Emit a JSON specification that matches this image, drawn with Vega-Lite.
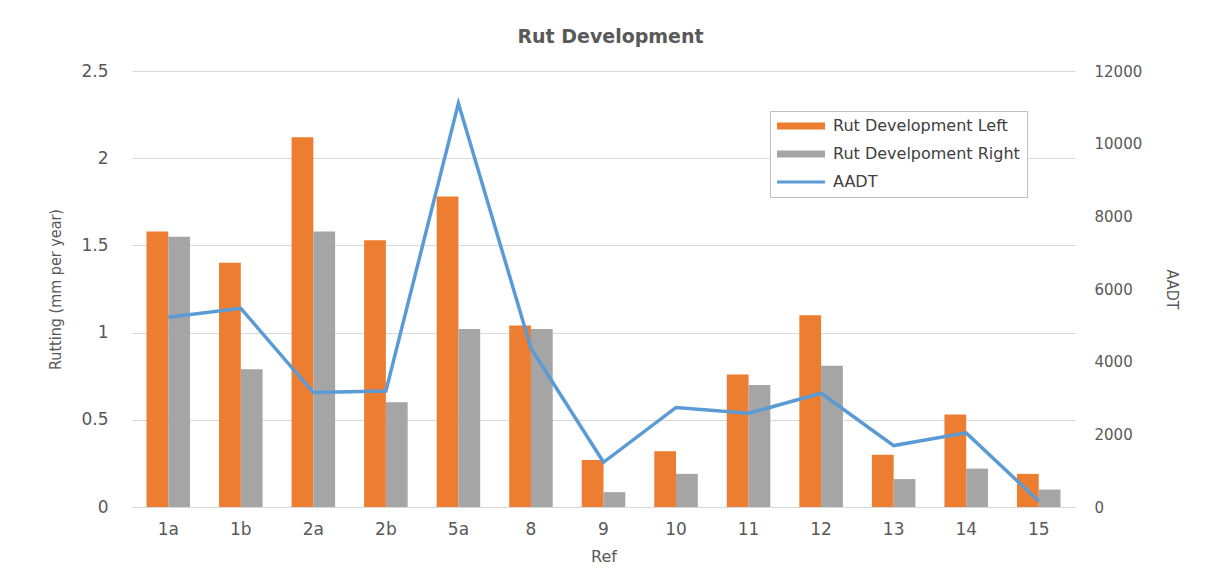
{
  "$schema": "https://vega.github.io/schema/vega-lite/v6.json",
  "autosize": {"type": "none"},
  "width": 943,
  "height": 436,
  "padding": {"left": 132, "top": 71, "right": 133, "bottom": 77},
  "background": "white",
  "title": {"text": "Rut Development", "font": "DejaVu Sans", "fontSize": 19, "fontWeight": "bold", "color": "#595959", "offset": 15, "anchor": "middle", "dx": 7},
  "config": {
    "view": {"stroke": null},
    "axis": {"labelColor": "#595959", "titleColor": "#595959", "titleFontWeight": "normal", "ticks": false, "domain": false}
  },
  "datasets": {
    "rut": [
      {"Ref": "1a", "Series": "Rut Development Left", "Rutting": 1.58},
      {"Ref": "1a", "Series": "Rut Develpoment Right", "Rutting": 1.55},
      {"Ref": "1b", "Series": "Rut Development Left", "Rutting": 1.40},
      {"Ref": "1b", "Series": "Rut Develpoment Right", "Rutting": 0.79},
      {"Ref": "2a", "Series": "Rut Development Left", "Rutting": 2.12},
      {"Ref": "2a", "Series": "Rut Develpoment Right", "Rutting": 1.58},
      {"Ref": "2b", "Series": "Rut Development Left", "Rutting": 1.53},
      {"Ref": "2b", "Series": "Rut Develpoment Right", "Rutting": 0.60},
      {"Ref": "5a", "Series": "Rut Development Left", "Rutting": 1.78},
      {"Ref": "5a", "Series": "Rut Develpoment Right", "Rutting": 1.02},
      {"Ref": "8", "Series": "Rut Development Left", "Rutting": 1.04},
      {"Ref": "8", "Series": "Rut Develpoment Right", "Rutting": 1.02},
      {"Ref": "9", "Series": "Rut Development Left", "Rutting": 0.27},
      {"Ref": "9", "Series": "Rut Develpoment Right", "Rutting": 0.085},
      {"Ref": "10", "Series": "Rut Development Left", "Rutting": 0.32},
      {"Ref": "10", "Series": "Rut Develpoment Right", "Rutting": 0.19},
      {"Ref": "11", "Series": "Rut Development Left", "Rutting": 0.76},
      {"Ref": "11", "Series": "Rut Develpoment Right", "Rutting": 0.70},
      {"Ref": "12", "Series": "Rut Development Left", "Rutting": 1.10},
      {"Ref": "12", "Series": "Rut Develpoment Right", "Rutting": 0.81},
      {"Ref": "13", "Series": "Rut Development Left", "Rutting": 0.30},
      {"Ref": "13", "Series": "Rut Develpoment Right", "Rutting": 0.16},
      {"Ref": "14", "Series": "Rut Development Left", "Rutting": 0.53},
      {"Ref": "14", "Series": "Rut Develpoment Right", "Rutting": 0.22},
      {"Ref": "15", "Series": "Rut Development Left", "Rutting": 0.19},
      {"Ref": "15", "Series": "Rut Develpoment Right", "Rutting": 0.10}
    ],
    "aadt": [
      {"Ref": "1a", "AADT": 5220},
      {"Ref": "1b", "AADT": 5470},
      {"Ref": "2a", "AADT": 3150},
      {"Ref": "2b", "AADT": 3190},
      {"Ref": "5a", "AADT": 11110},
      {"Ref": "8", "AADT": 4370},
      {"Ref": "9", "AADT": 1230},
      {"Ref": "10", "AADT": 2740},
      {"Ref": "11", "AADT": 2580},
      {"Ref": "12", "AADT": 3130},
      {"Ref": "13", "AADT": 1690},
      {"Ref": "14", "AADT": 2040},
      {"Ref": "15", "AADT": 165}
    ]
  },
  "layer": [
    {
      "data": {"name": "rut"},
      "mark": {"type": "bar"},
      "encoding": {
        "x": {
          "field": "Ref", "type": "nominal",
          "sort": ["1a","1b","2a","2b","5a","8","9","10","11","12","13","14","15"],
          "scale": {"paddingInner": 0.4, "paddingOuter": 0.2},
          "axis": {"title": "Ref", "labelAngle": 0, "labelFont": "DejaVu Sans", "labelFontSize": 17, "labelPadding": 14, "titleFont": "DejaVu Sans", "titleFontSize": 16, "titlePadding": 11, "domain": true, "domainColor": "#d9d9d9", "domainWidth": 1}
        },
        "xOffset": {"field": "Series", "type": "nominal", "sort": ["Rut Development Left", "Rut Develpoment Right"]},
        "y": {
          "field": "Rutting", "type": "quantitative",
          "scale": {"domain": [0, 2.5]},
          "axis": {"title": "Rutting (mm per year)", "values": [0, 0.5, 1, 1.5, 2, 2.5], "format": "~g", "labelFont": "DejaVu Sans", "labelFontSize": 17, "labelPadding": 24, "titleFont": "DejaVu Sans Condensed, Liberation Sans, sans-serif", "titleFontSize": 16, "titlePadding": 17, "gridColor": "#d9d9d9", "gridWidth": 1}
        },
        "color": {
          "field": "Series", "type": "nominal",
          "scale": {"domain": ["Rut Development Left", "Rut Develpoment Right", "AADT"], "range": ["#ED7D31", "#A5A5A5", "#5B9BD5"]},
          "legend": {
            "title": null,
            "orient": "none",
            "legendX": 638,
            "legendY": 40,
            "symbolType": "stroke",
            "symbolSize": 2300,
            "symbolStrokeWidth": 7,
            "labelFont": "DejaVu Sans",
            "labelFontSize": 16,
            "labelColor": "#404040",
            "labelOffset": 40,
            "gridAlign": "all",
            "rowPadding": 0,
            "padding": 7,
            "strokeColor": "#bfbfbf",
            "fillColor": "white",
            "labelLimit": 300,
            "encode": {
              "symbols": {"update": {
                "strokeWidth": {"signal": "datum.value === 'AADT' ? 3 : 7"},
                "xc": {"value": 24},
                "stroke": {"signal": "datum.value === 'AADT' ? '#5B9BD5' : (datum.value === 'Rut Development Left' ? '#ED7D31' : '#A5A5A5')"}
              }}
            }
          }
        }
      }
    },
    {
      "data": {"name": "aadt"},
      "mark": {"type": "line", "strokeWidth": 3.5, "color": "#5B9BD5"},
      "encoding": {
        "x": {"field": "Ref", "type": "nominal", "sort": ["1a","1b","2a","2b","5a","8","9","10","11","12","13","14","15"]},
        "y": {
          "field": "AADT", "type": "quantitative",
          "scale": {"domain": [0, 12000]},
          "axis": {"orient": "right", "title": "AADT", "values": [0, 2000, 4000, 6000, 8000, 10000, 12000], "format": "d", "grid": false, "labelFont": "DejaVu Sans", "labelFontSize": 15, "labelPadding": 19, "titleFont": "DejaVu Sans Condensed, Liberation Sans, sans-serif", "titleFontSize": 16, "titlePadding": 22}
        },
        "color": {"datum": "AADT"}
      }
    }
  ],
  "resolve": {"scale": {"y": "independent"}}
}
